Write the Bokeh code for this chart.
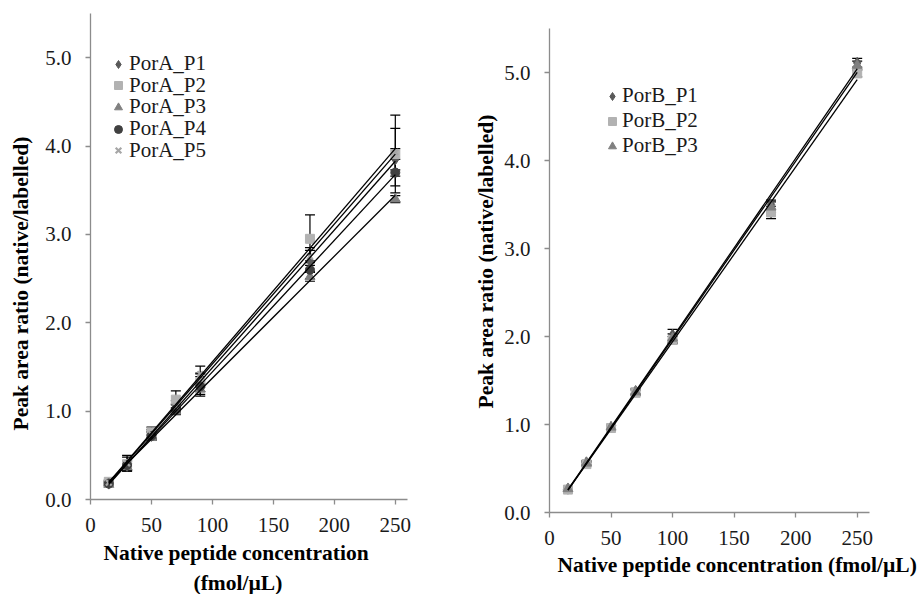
import numpy as np
from bokeh.plotting import figure
from bokeh.layouts import row
from bokeh.models import (ColumnDataSource, Whisker, TeeHead, Legend, LegendItem,
                          FixedTicker, NumeralTickFormatter, Range1d, Title)
from bokeh.embed import file_html
from bokeh.resources import INLINE

# ---------------- data ----------------
x_a = [15, 30, 50, 70, 90, 180, 250]
pora_names = ["PorA_P1", "PorA_P2", "PorA_P3", "PorA_P4", "PorA_P5"]
pora_p1 = [0.18, 0.38, 0.72, 1.03, 1.35, 2.70, 3.85]
pora_p2 = [0.20, 0.40, 0.76, 1.13, 1.32, 2.95, 3.91]
pora_p3 = [0.17, 0.37, 0.70, 1.00, 1.25, 2.52, 3.40]
pora_p4 = [0.18, 0.39, 0.72, 1.02, 1.28, 2.60, 3.70]
pora_p5 = [0.19, 0.41, 0.74, 1.06, 1.42, 2.75, 3.93]
pora_e1 = [0.02, 0.05, 0.04, 0.05, 0.08, 0.12, 0.12]
pora_e2 = [0.02, 0.08, 0.06, 0.10, 0.10, 0.27, 0.44]
pora_e3 = [0.02, 0.04, 0.03, 0.04, 0.06, 0.05, 0.04]
pora_e4 = [0.02, 0.05, 0.05, 0.05, 0.11, 0.10, 0.15]
pora_e5 = [0.02, 0.09, 0.05, 0.06, 0.09, 0.10, 0.27]

x_b = [15, 30, 50, 70, 100, 180, 250]
porb_names = ["PorB_P1", "PorB_P2", "PorB_P3"]
porb_p1 = [0.27, 0.57, 0.97, 1.38, 2.02, 3.50, 5.11]
porb_p2 = [0.26, 0.55, 0.96, 1.36, 1.96, 3.41, 4.99]
porb_p3 = [0.27, 0.56, 0.97, 1.37, 1.98, 3.47, 5.08]
porb_e1 = [0.01, 0.02, 0.02, 0.03, 0.06, 0.05, 0.05]
porb_e2 = [0.01, 0.02, 0.03, 0.03, 0.04, 0.07, 0.04]
porb_e3 = [0.01, 0.02, 0.02, 0.03, 0.05, 0.06, 0.05]

y_ticks = [0, 1, 2, 3, 4, 5]
x_ticks = [0, 50, 100, 150, 200, 250]

y_title = "Peak area ratio (native/labelled)"
x_title_a = ["Native peptide concentration", "(fmol/µL)"]
x_title_b = "Native peptide concentration (fmol/µL)"

# ---------------- styles ----------------
FONT = "Liberation Serif"
TITLE_SIZE = "21.5px"
styles = [
    dict(marker="diamond", size=11, color="#595959"),
    dict(marker="square", size=9, color="#b2b2b2"),
    dict(marker="triangle", size=10, color="#808080"),
    dict(marker="circle", size=9, color="#404040"),
    dict(marker="x", size=8, color="#a6a6a6"),
]
AXIS_COLOR = "#8c8c8c"


def make_fig(width, height, bl, br, bt, bb):
    p = figure(width=width, height=height, output_backend="svg", toolbar_location=None,
               x_range=Range1d(0, 260), y_range=Range1d(0, 5.5),
               min_border_left=bl, min_border_right=br, min_border_top=bt, min_border_bottom=bb)
    if "frame_align" in p.properties():
        p.frame_align = False
    p.outline_line_color = None
    p.xgrid.visible = False
    p.ygrid.visible = False
    for ax in (p.xaxis[0], p.yaxis[0]):
        ax.axis_line_color = AXIS_COLOR
        ax.major_tick_line_color = AXIS_COLOR
        ax.minor_tick_line_color = None
        ax.major_tick_in = 0
        ax.major_tick_out = 5
        ax.axis_line_width = 1.3
        ax.major_tick_line_width = 1.3
        ax.major_label_text_font = FONT
        ax.major_label_text_font_size = "21px"
        ax.major_label_text_color = "#1a1a1a"
    p.xaxis[0].ticker = FixedTicker(ticks=x_ticks)
    p.yaxis[0].ticker = FixedTicker(ticks=y_ticks)
    p.yaxis[0].formatter = NumeralTickFormatter(format="0.0")
    p.xaxis[0].major_label_standoff = 13
    p.yaxis[0].major_label_standoff = 14
    return p


def side_title(p, text, side, offset, standoff, valign="bottom"):
    p.add_layout(Title(text=text, align="left", offset=offset, standoff=standoff,
                       vertical_align=valign,
                       text_font=FONT, text_font_size=TITLE_SIZE, text_font_style="bold",
                       text_color="black"), side)


def make_legend(items, loc, spacing, standoff):
    return Legend(items=items, location=loc, border_line_alpha=0,
                  background_fill_alpha=0, label_text_font=FONT, label_text_font_size="21px",
                  label_text_color="#1a1a1a",
                  glyph_width=20, glyph_height=20, label_standoff=standoff, spacing=spacing,
                  padding=0, margin=0, label_height=18)


def add_series(p, x, ys, errs, names):
    items = []
    xs = np.array(x, dtype=float)
    for i, (y, e, name) in enumerate(zip(ys, errs, names)):
        st = styles[i]
        y = np.array(y, dtype=float)
        e = np.array(e, dtype=float)
        src = ColumnDataSource(dict(x=xs, y=y, up=y + e, lo=y - e))
        if st["marker"] == "x":
            r = p.scatter("x", "y", source=src, marker="x", size=st["size"],
                          line_color=st["color"], line_width=2.2)
        else:
            r = p.scatter("x", "y", source=src, marker=st["marker"], size=st["size"],
                          fill_color=st["color"], line_color=st["color"])
        items.append(LegendItem(label=name, renderers=[r]))
        p.add_layout(Whisker(source=src, base="x", upper="up", lower="lo",
                             line_color="black", line_width=1.2,
                             upper_head=TeeHead(size=10, line_color="black", line_width=1.2),
                             lower_head=TeeHead(size=10, line_color="black", line_width=1.2)))
    # linear trendlines fitted from each series
    for y in ys:
        k, b = np.polyfit(xs, np.array(y, dtype=float), 1)
        xe = np.array([xs.min(), xs.max()])
        p.line(xe, k * xe + b, line_color="black", line_width=1.3)
    return items


# left chart: frame x 89..407, y 13..501 (page coords)
p1 = make_fig(460, 594, 89, 53, 13, 93)
items_a = add_series(p1, x_a, [pora_p1, pora_p2, pora_p3, pora_p4, pora_p5],
                     [pora_e1, pora_e2, pora_e3, pora_e4, pora_e5], pora_names)
# tight legend rows (about 21.7 px apart): one single-entry legend per row
for i, it in enumerate(items_a):
    p1.add_layout(make_legend([it], (18, 423 - i * 21.7), 0, 1))
side_title(p1, y_title, "left", 69, 16, valign="top")
side_title(p1, x_title_a[0], "below", 13, 8)
side_title(p1, x_title_a[1], "below", 103, 0)

# right chart: frame x 549..869, y 28..512 (page coords)
p2 = make_fig(460, 594, 89, 51, 28, 82)
items_b = add_series(p2, x_b, [porb_p1, porb_p2, porb_p3],
                     [porb_e1, porb_e2, porb_e3], porb_names)
p2.add_layout(make_legend(items_b, (53, 354), 0, 0))
side_title(p2, y_title, "left", 104, 8)
side_title(p2, x_title_b, "below", 8, 6)

layout = row(p1, p2)
open("out.html", "w").write(file_html(layout, INLINE))
